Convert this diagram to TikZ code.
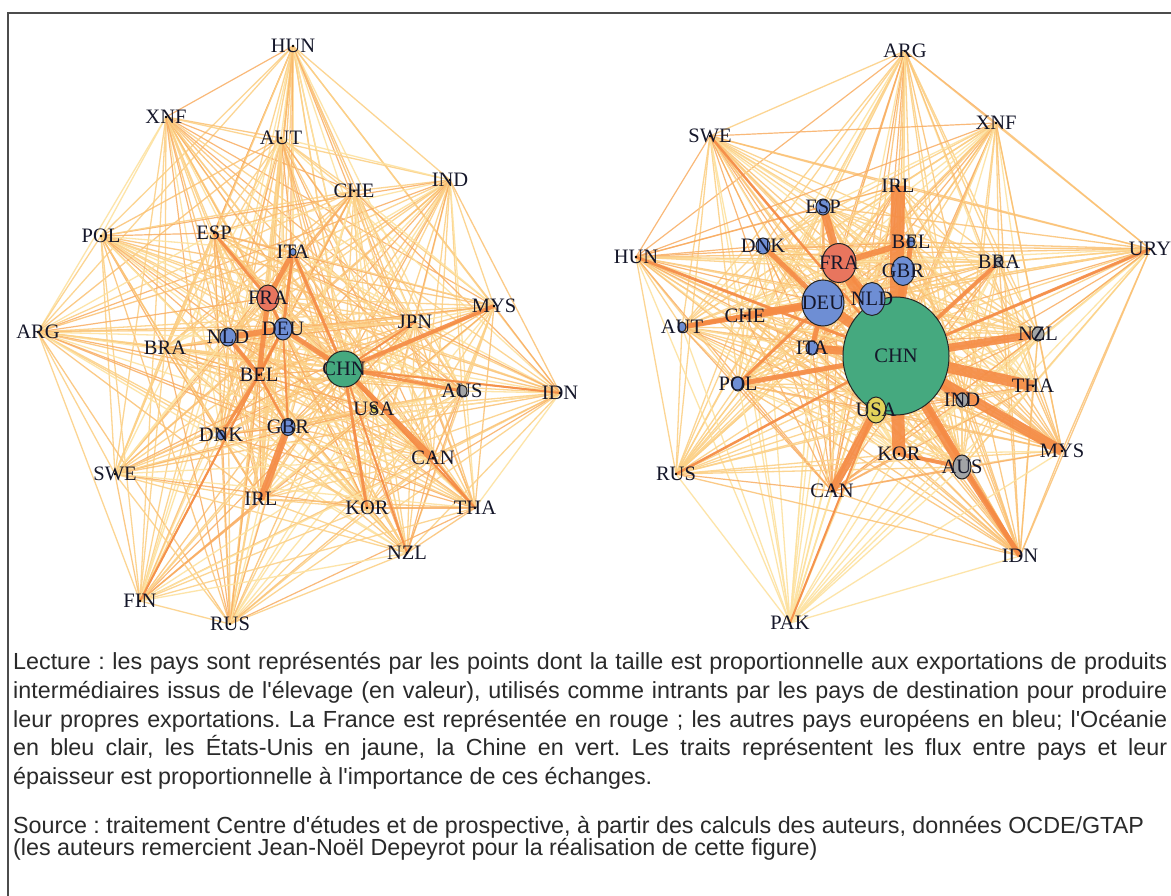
\documentclass[tikz,border=0pt]{standalone}
\usepackage{fontspec}
\setmainfont{Liberation Serif}
\newfontfamily\legendfont{Liberation Sans}
\usepackage{tikz}
\usetikzlibrary{shapes.geometric, calc}
\definecolor{flowA}{HTML}{FDE2A0}
\definecolor{flowB}{HTML}{FCD188}
\definecolor{flowC}{HTML}{FBC173}
\definecolor{flowD}{HTML}{F9AD62}
\definecolor{flowThick}{HTML}{F58B45}
\definecolor{frared}{HTML}{E8755E}
\definecolor{eublue}{HTML}{6E8ED4}
\definecolor{chngreen}{HTML}{45A97F}
\definecolor{usyellow}{HTML}{E2D25A}
\definecolor{ocgray}{HTML}{A2A4A6}
\definecolor{labelink}{HTML}{15172A}
\definecolor{legendink}{HTML}{2A2A2A}
\tikzstyle{flow0} = [draw=flowA, line width=1.3pt, opacity=0.9]
\tikzstyle{flow1} = [draw=flowB, line width=1.3pt, opacity=0.9]
\tikzstyle{flow2} = [draw=flowC, line width=1.3pt, opacity=0.85]
\tikzstyle{flow3} = [draw=flowB, line width=1.3pt, opacity=0.9]
\tikzstyle{flow4} = [draw=flowD, line width=1.2pt, opacity=0.85]
\tikzstyle{bigflow} = [draw=flowThick, opacity=0.9]
\tikzstyle{bubble} = [ellipse, draw=black!85, line width=1pt, inner sep=0pt]
\tikzstyle{countrydot} = [circle, fill=black, minimum size=2.8pt, inner sep=0pt]
\tikzstyle{country} = [font=\fontsize{20.5}{20.5}\selectfont, text=labelink, inner sep=0pt]
\tikzstyle{legendline} = [anchor=base west, inner sep=0pt, text=legendink, font=\legendfont\fontsize{23.3}{23.3}\selectfont\frenchspacing]
\newcommand\leftnet{HUN/293/46, XNF/166/117, AUT/281/138, IND/450/180, CHE/354/191,
  POL/101/236, ESP/214/233, ITA/293/252, FRA/268/298, MYS/494/306, ARG/38/332,
  BRA/165/348, NLD/228/337, DEU/283/329, JPN/415/322, CHN/344/369, BEL/259/375,
  AUS/462/391, IDN/560/393, USA/374/409, DNK/221/435, GBR/288/427, CAN/433/458,
  SWE/115/474, IRL/261/499, KOR/367/508, THA/475/508, NZL/407/553, FIN/140/601, RUS/230/624}
\newcommand\rightnet{ARG/905/51, SWE/710/136, XNF/996/123, IRL/898/186, ESP/823/207,
  DNK/763/246, BEL/911/242, HUN/636/257, URY/1150/249, FRA/839/263, GBR/903/271,
  BRA/999/262, DEU/823/303, NLD/872/299, CHE/745/316, AUT/682/327, NZL/1038/334,
  ITA/812/348, CHN/896/356, THA/1033/386, POL/738/384, IND/962/400, USA/876/410,
  MYS/1062/451, KOR/899/454, AUS/962/467, RUS/676/474, CAN/832/491, IDN/1020/556, PAK/790/623}
\begin{document}
\begin{tikzpicture}[x=1pt, y=-1pt]
	\useasboundingbox (0,0) rectangle (1171,896);
	\fill[white] (0,0) rectangle (1171,896);
	\draw[line width=1.3pt, draw=black!70] (8,910) -- (8,13) -- (1190,13);
	\foreach \c/\cx/\cy in \leftnet {\coordinate (Left\c) at (\cx,\cy);}
	\foreach \c/\cx/\cy in \rightnet {\coordinate (Right\c) at (\cx,\cy);}
	\foreach \a/\ax/\ay [count=\i] in \leftnet {
		\foreach \b/\bx/\by [count=\j] in \leftnet {
			\ifnum\j>\i
				\pgfmathtruncatemacro\k{mod(\i*7+\j*11,5)}
				\draw[flow\k] (Left\a) -- (Left\b);
			\fi
		}
	}
	\foreach \a/\ax/\ay [count=\i] in \rightnet {
		\foreach \b/\bx/\by [count=\j] in \rightnet {
			\ifnum\j>\i
				\pgfmathtruncatemacro\k{mod(\i*5+\j*13,5)}
				\draw[flow\k] (Right\a) -- (Right\b);
			\fi
		}
	}
	\foreach \a/\b/\w in {FRA/ITA/5, FRA/BEL/5, NLD/DEU/6, NLD/BEL/4, DEU/CHN/5, ITA/CHN/3,
		CHN/CAN/5, CHN/MYS/4, CHN/KOR/3, CHN/AUS/3, CHN/JPN/2, GBR/IRL/7, BEL/DNK/3, ESP/FRA/3,
		BEL/GBR/2.5, DEU/GBR/2, FRA/DEU/3, CHN/IDN/2, CAN/THA/2, FIN/DEU/2, CHN/THA/2,
		CHN/NZL/2, ITA/DEU/3, DEU/BEL/3}
		\draw[bigflow, line width=\w pt] (Left\a) -- (Left\b);
	\foreach \a/\b/\w in {IRL/CHN/14, FRA/ESP/8, FRA/CHN/10, DNK/DEU/5, FRA/BEL/6, DEU/CHE/8,
		DEU/AUT/5, DEU/CHN/10, NLD/CHN/8, ITA/CHN/8, ITA/DEU/5, POL/CHN/5, CHN/NZL/8, CHN/THA/11,
		CHN/MYS/10, CHN/AUS/10, AUS/IDN/5, CHN/IDN/4, CHN/KOR/13, USA/CAN/8, CHN/USA/6, CHN/IND/6,
		CHN/BRA/4, CHN/URY/3, CHN/GBR/6, CHN/BEL/5, CHN/RUS/2.5, CHN/HUN/3, CHN/SWE/2.5, KOR/AUS/4,
		CHN/PAK/2, FRA/DEU/6, CHE/AUT/4, FRA/NLD/5, DEU/POL/3}
		\draw[bigflow, line width=\w pt] (Right\a) -- (Right\b);
	\foreach \c/\cx/\cy in \leftnet {\node[countrydot] at (Left\c) {};}
	\foreach \c/\cx/\cy in \rightnet {\node[countrydot] at (Right\c) {};}
	\foreach \c/\rx/\ry/\col in {FRA/11/13/frared, DEU/9/11/eublue, NLD/8/9/eublue,
		CHN/18/18/chngreen, GBR/7/8.5/eublue, DNK/4/5/eublue, AUS/5/6/ocgray,
		ITA/3/3.5/eublue, USA/3/4/usyellow}
		\node[bubble, fill=\col, minimum width=\rx*2pt, minimum height=\ry*2pt] (Left\c Bubble) at (Left\c) {};
	\foreach \c/\rx/\ry/\col in {CHN/53/59/chngreen, DEU/21/23/eublue, FRA/17/19.5/frared,
		NLD/13/16.5/eublue, GBR/11.5/14.5/eublue, USA/10/13/usyellow, AUS/9/12/ocgray,
		ESP/7/8/eublue, DNK/7/8/eublue, ITA/6/7/eublue, POL/6/7/eublue, IND/6/7/ocgray,
		NZL/6/7/ocgray, AUT/4/5/eublue, BEL/4/5/eublue, BRA/4/5/ocgray}
		\node[bubble, fill=\col, minimum width=\rx*2pt, minimum height=\ry*2pt] (Right\c Bubble) at (Right\c) {};
	\foreach \c/\cx/\cy in \leftnet {\node[country] (Left\c Label) at (Left\c) {\c};}
	\foreach \c/\cx/\cy in \rightnet {\node[country] (Right\c Label) at (Right\c) {\c};}
	\node[legendline] (Legend1) at (13,669) {\makebox[1154pt][s]{Lecture : les pays sont représentés par les points dont la taille est proportionnelle aux exportations de produits}};
	\node[legendline] (Legend2) at (13,698) {\makebox[1154pt][s]{intermédiaires issus de l\textquotesingle élevage (en valeur), utilisés comme intrants par les pays de destination pour produire}};
	\node[legendline] (Legend3) at (13,727) {\makebox[1154pt][s]{leur propres exportations. La France est représentée en rouge ; les autres pays européens en bleu; l\textquotesingle Océanie}};
	\node[legendline] (Legend4) at (13,755) {\makebox[1154pt][s]{en bleu clair, les États-Unis en jaune, la Chine en vert. Les traits représentent les flux entre pays et leur}};
	\node[legendline] (Legend5) at (13,784) {épaisseur est proportionnelle à l\textquotesingle importance de ces échanges.};
	\node[legendline] (Source1) at (13,833) {Source : traitement Centre d\textquotesingle études et de prospective, à partir des calculs des auteurs, données OCDE/GTAP};
	\node[legendline] (Source2) at (13,855) {(les auteurs remercient Jean-Noël Depeyrot pour la réalisation de cette figure)};
\end{tikzpicture}
\end{document}
